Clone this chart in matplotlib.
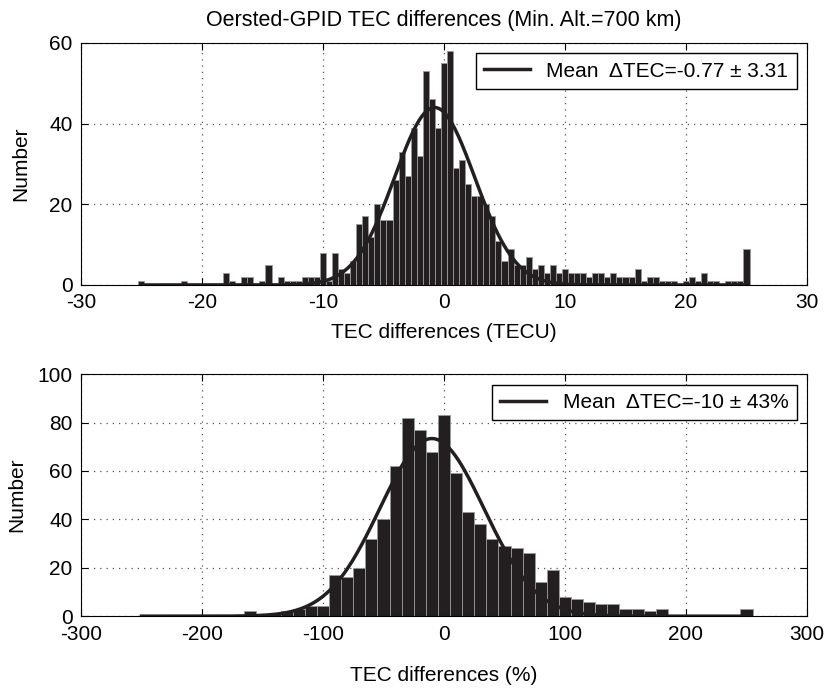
import numpy as np
import matplotlib
matplotlib.use('Agg')
import matplotlib.pyplot as plt

plt.rcParams['font.family'] = ['Liberation Sans', 'DejaVu Sans']
plt.rcParams['font.size'] = 15
plt.rcParams['axes.unicode_minus'] = False

# top panel: TEC differences in TECU, bin centres -25..25 step 0.5
tecu_centers = np.arange(-25, 25.01, 0.5)
tecu_counts = [1, 0, 0, 0, 0, 0, 0, 1, 0, 0,
               0, 0, 0, 0, 3, 1, 0, 2, 2, 0,
               1, 5, 0, 2, 1, 1, 1, 2, 2, 2,
               8, 1, 8, 4, 3, 6, 15, 17, 12, 20,
               16, 16, 26, 33, 27, 39, 32, 53, 46, 39,
               55, 58, 29, 31, 25, 22, 22, 20, 17, 11,
               6, 9, 5, 5, 7, 4, 5, 3, 5, 3,
               4, 3, 3, 3, 2, 3, 3, 2, 3, 2,
               2, 2, 4, 1, 2, 2, 1, 1, 1, 0,
               1, 2, 1, 3, 1, 1, 0, 1, 1, 1,
               9]
tecu_mean, tecu_std, tecu_peak = -0.77, 3.31, 44

# bottom panel: relative differences in %, bin centres -250..250 step 10
pct_centers = np.arange(-250, 251, 10)
pct_counts = [0, 0, 0, 0, 0, 0, 0, 0, 0, 2,
              0, 1, 2, 3, 4, 4, 17, 16, 20, 32,
              40, 62, 82, 77, 68, 83, 59, 43, 38, 32,
              29, 28, 26, 14, 19, 8, 7, 6, 5, 5,
              3, 3, 2, 3, 0, 0, 0, 0, 0, 0,
              3]
pct_mean, pct_std, pct_peak = -10, 43, 73.4

bar_col = '#231f20'
edge_col = '#9a9a9a'


def style(ax):
    ax.grid(True, linestyle=(0, (1, 4)), color='#555555', linewidth=0.9)
    ax.set_axisbelow(True)
    ax.tick_params(direction='in', top=True, right=True, length=5, width=0.8, pad=6)
    for s in ax.spines.values():
        s.set_linewidth(0.8)


fig = plt.figure(figsize=(8.26, 6.9), dpi=100)

ax1 = fig.add_axes([0.098, 0.587, 0.879, 0.3507])
ax1.bar(tecu_centers, tecu_counts, width=0.5, color=bar_col, edgecolor=edge_col, linewidth=0.6)
xf = np.linspace(-25, 25, 400)
ax1.plot(xf, tecu_peak * np.exp(-0.5 * ((xf - tecu_mean) / tecu_std) ** 2), color='#231f20', lw=2.5,
         label='Mean  \u0394TEC=-0.77 \u00b1 3.31')
ax1.set_xlim(-30, 30)
ax1.set_ylim(0, 60)
ax1.set_xticks(np.arange(-30, 31, 10))
ax1.set_yticks(np.arange(0, 61, 20))
ax1.set_xlabel('TEC differences (TECU)', labelpad=8)
ax1.set_ylabel('Number', labelpad=14)
ax1.set_title('Oersted-GPID TEC differences (Min. Alt.=700 km)', pad=12, fontsize=15.5)
style(ax1)
ax1.legend(loc='upper right', fancybox=False, edgecolor='black', framealpha=1,
           handlelength=2.2, borderpad=0.4, borderaxespad=0.5)

ax2 = fig.add_axes([0.098, 0.107, 0.879, 0.3507])
ax2.bar(pct_centers, pct_counts, width=10, color=bar_col, edgecolor=edge_col, linewidth=0.6)
xf2 = np.linspace(-250, 250, 400)
ax2.plot(xf2, pct_peak * np.exp(-0.5 * ((xf2 - pct_mean) / pct_std) ** 2), color='#231f20', lw=2.5,
         label='Mean  \u0394TEC=-10 \u00b1 43%')
ax2.set_xlim(-300, 300)
ax2.set_ylim(0, 100)
ax2.set_xticks(np.arange(-300, 301, 100))
ax2.set_yticks(np.arange(0, 101, 20))
ax2.set_xlabel('TEC differences (%)', labelpad=16)
ax2.set_ylabel('Number', labelpad=8)
style(ax2)
ax2.legend(loc='upper right', fancybox=False, edgecolor='black', framealpha=1,
           handlelength=2.2, borderpad=0.4, borderaxespad=0.5)

fig.savefig('out.png', dpi=100)
